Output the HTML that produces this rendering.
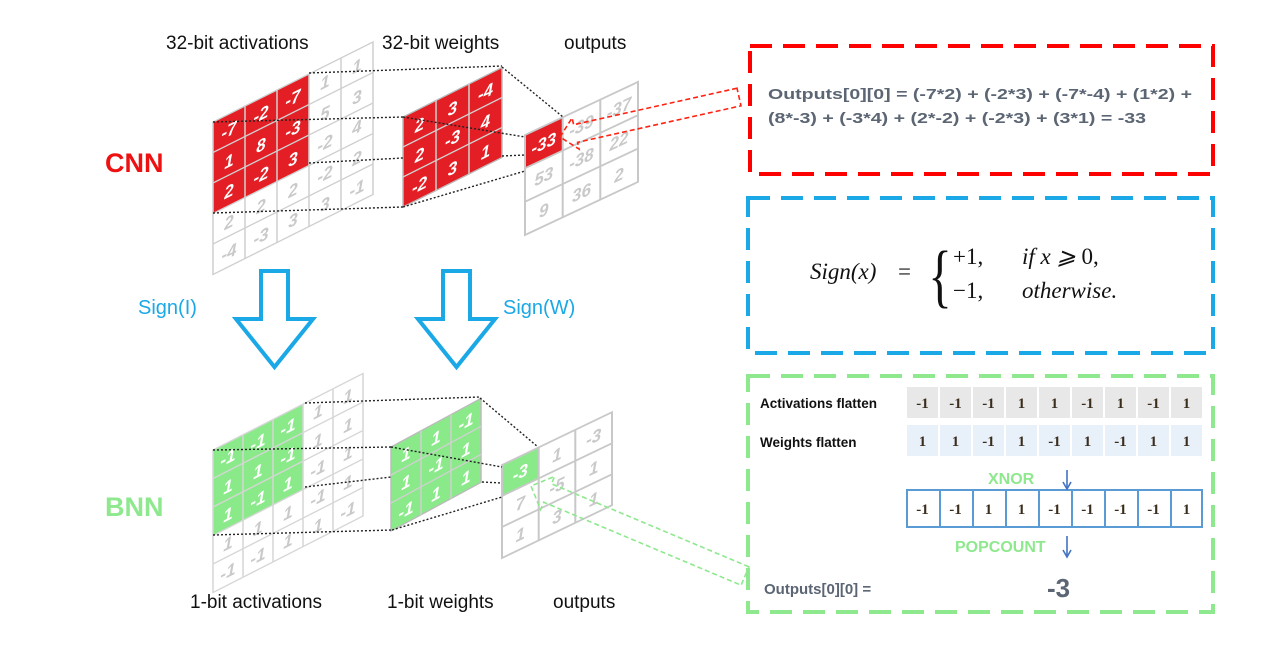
<!DOCTYPE html>
<html><head><meta charset="utf-8"><style>
html,body{margin:0;padding:0;background:#fff;}
svg{display:block;}
.lbl{font-family:"Liberation Sans",sans-serif;font-size:19px;fill:#111;}
.g text{font-family:"Liberation Sans",sans-serif;font-weight:bold;font-style:italic;font-size:17px;text-anchor:middle;}
.gw{fill:#c9c9c9;}
.gr{fill:#fff;}
.dot{stroke:#222;stroke-width:1.4;stroke-dasharray:2 2;fill:none;}
.num{font-family:"Liberation Serif",serif;font-weight:bold;font-size:15px;fill:#3b2d1e;text-anchor:middle;}
</style></head><body>
<svg width="1278" height="652" viewBox="0 0 1278 652" xmlns="http://www.w3.org/2000/svg">
<rect width="1278" height="652" fill="#fff"/>

<!-- top labels -->
<text class="lbl" x="166" y="49">32-bit activations</text>
<text class="lbl" x="382" y="49">32-bit weights</text>
<text class="lbl" x="564" y="49">outputs</text>
<text x="105" y="172" font-family="Liberation Sans,sans-serif" font-weight="bold" font-size="27" fill="#ee1111">CNN</text>
<text x="105" y="516" font-family="Liberation Sans,sans-serif" font-weight="bold" font-size="27" fill="#8ee88e">BNN</text>
<text x="138" y="314" font-family="Liberation Sans,sans-serif" font-size="20" fill="#1aa8e6">Sign(I)</text>
<text x="503" y="314" font-family="Liberation Sans,sans-serif" font-size="20" fill="#1aa8e6">Sign(W)</text>
<text class="lbl" x="190" y="608">1-bit activations</text>
<text class="lbl" x="387" y="608">1-bit weights</text>
<text class="lbl" x="553" y="608">outputs</text>

<!-- CNN activation grid 5x5 -->
<g class="g" transform="matrix(1,-0.5,0,1,213,122)">
<rect x="0" y="0" width="96" height="91.5" fill="#e31e24"/>
<g stroke="#cfcfcf" stroke-width="1.5" fill="none">
<rect x="0" y="0" width="160" height="152.5"/>
<line x1="32" y1="0" x2="32" y2="152.5"/><line x1="64" y1="0" x2="64" y2="152.5"/><line x1="96" y1="0" x2="96" y2="152.5"/><line x1="128" y1="0" x2="128" y2="152.5"/>
<line x1="0" y1="30.5" x2="160" y2="30.5"/><line x1="0" y1="61" x2="160" y2="61"/><line x1="0" y1="91.5" x2="160" y2="91.5"/><line x1="0" y1="122" x2="160" y2="122"/>
</g>
<text class="gr" x="16" y="22">-7</text><text class="gr" x="48" y="22">-2</text><text class="gr" x="80" y="22">-7</text><text class="gw" x="112" y="22">1</text><text class="gw" x="144" y="22">1</text>
<text class="gr" x="16" y="53">1</text><text class="gr" x="48" y="53">8</text><text class="gr" x="80" y="53">-3</text><text class="gw" x="112" y="53">5</text><text class="gw" x="144" y="53">3</text>
<text class="gr" x="16" y="83">2</text><text class="gr" x="48" y="83">-2</text><text class="gr" x="80" y="83">3</text><text class="gw" x="112" y="83">-2</text><text class="gw" x="144" y="83">4</text>
<text class="gw" x="16" y="114">2</text><text class="gw" x="48" y="114">2</text><text class="gw" x="80" y="114">2</text><text class="gw" x="112" y="114">-2</text><text class="gw" x="144" y="114">2</text>
<text class="gw" x="16" y="144">-4</text><text class="gw" x="48" y="144">-3</text><text class="gw" x="80" y="144">3</text><text class="gw" x="112" y="144">3</text><text class="gw" x="144" y="144">-1</text>
</g>

<!-- CNN weights -->
<g class="g" transform="matrix(1,-0.5,0,1,403,117)">
<rect x="0" y="0" width="99" height="90" fill="#e31e24" stroke="#bbb" stroke-width="1.5"/>
<g stroke="#d0d0d0" stroke-width="1.5"><line x1="33" y1="0" x2="33" y2="90"/><line x1="66" y1="0" x2="66" y2="90"/><line x1="0" y1="30" x2="99" y2="30"/><line x1="0" y1="60" x2="99" y2="60"/></g>
<text class="gr" x="16.5" y="22">2</text><text class="gr" x="49.5" y="22">3</text><text class="gr" x="82.5" y="22">-4</text>
<text class="gr" x="16.5" y="52">2</text><text class="gr" x="49.5" y="52">-3</text><text class="gr" x="82.5" y="52">4</text>
<text class="gr" x="16.5" y="82">-2</text><text class="gr" x="49.5" y="82">3</text><text class="gr" x="82.5" y="82">1</text>
</g>

<!-- CNN outputs -->
<g class="g" transform="matrix(1,-0.47,0,1,525,135)">
<rect x="0" y="0" width="37.7" height="33.3" fill="#e31e24"/>
<g stroke="#c8c8c8" stroke-width="2" fill="none"><rect x="0" y="0" width="113" height="100"/>
<line x1="37.7" y1="0" x2="37.7" y2="100"/><line x1="75.3" y1="0" x2="75.3" y2="100"/><line x1="0" y1="33.3" x2="113" y2="33.3"/><line x1="0" y1="66.7" x2="113" y2="66.7"/></g>
<text class="gr" x="18.8" y="23">-33</text><text class="gw" x="56.5" y="23">-39</text><text class="gw" x="94" y="23">-37</text>
<text class="gw" x="18.8" y="56">53</text><text class="gw" x="56.5" y="56">-38</text><text class="gw" x="94" y="56">22</text>
<text class="gw" x="18.8" y="90">9</text><text class="gw" x="56.5" y="90">36</text><text class="gw" x="94" y="90">2</text>
</g>

<!-- CNN dotted -->
<path class="dot" d="M309 73L502 66M213 122L403 117M309 163L403 158M213 213L403 207M502 67L563 117M403 117L525 137M502 156L525 155M403 207L525 171"/>

<!-- Blue arrows -->
<polygon points="261,271 288,271 288,319 313,319 274.5,367 236,319 261,319" fill="#fff" stroke="#1aa8e6" stroke-width="4" stroke-linejoin="miter"/>
<polygon points="443,271 470,271 470,319 495,319 456.5,367 418,319 443,319" fill="#fff" stroke="#1aa8e6" stroke-width="4"/>

<!-- BNN activation grid -->
<g class="g" transform="matrix(1,-0.51,0,1,213,450)">
<rect x="0" y="0" width="90" height="85.5" fill="#8aea8a"/>
<g stroke="#d6d6d6" stroke-width="1.5" fill="none">
<rect x="0" y="0" width="150" height="142.5"/>
<line x1="30" y1="0" x2="30" y2="142.5"/><line x1="60" y1="0" x2="60" y2="142.5"/><line x1="90" y1="0" x2="90" y2="142.5"/><line x1="120" y1="0" x2="120" y2="142.5"/>
<line x1="0" y1="28.5" x2="150" y2="28.5"/><line x1="0" y1="57" x2="150" y2="57"/><line x1="0" y1="85.5" x2="150" y2="85.5"/><line x1="0" y1="114" x2="150" y2="114"/>
</g>
<text class="gr" x="15" y="21">-1</text><text class="gr" x="45" y="21">-1</text><text class="gr" x="75" y="21">-1</text><text class="gw" x="105" y="21">1</text><text class="gw" x="135" y="21">1</text>
<text class="gr" x="15" y="50">1</text><text class="gr" x="45" y="50">1</text><text class="gr" x="75" y="50">-1</text><text class="gw" x="105" y="50">1</text><text class="gw" x="135" y="50">1</text>
<text class="gr" x="15" y="78">1</text><text class="gr" x="45" y="78">-1</text><text class="gr" x="75" y="78">1</text><text class="gw" x="105" y="78">-1</text><text class="gw" x="135" y="78">1</text>
<text class="gw" x="15" y="107">1</text><text class="gw" x="45" y="107">1</text><text class="gw" x="75" y="107">1</text><text class="gw" x="105" y="107">-1</text><text class="gw" x="135" y="107">1</text>
<text class="gw" x="15" y="135">-1</text><text class="gw" x="45" y="135">-1</text><text class="gw" x="75" y="135">1</text><text class="gw" x="105" y="135">1</text><text class="gw" x="135" y="135">-1</text>
</g>

<!-- BNN weights -->
<g class="g" transform="matrix(1,-0.54,0,1,391,447)">
<rect x="0" y="0" width="90" height="84" fill="#8aea8a" stroke="#bbb" stroke-width="1.5"/>
<g stroke="#d0d0d0" stroke-width="1.5"><line x1="30" y1="0" x2="30" y2="84"/><line x1="60" y1="0" x2="60" y2="84"/><line x1="0" y1="28" x2="90" y2="28"/><line x1="0" y1="56" x2="90" y2="56"/></g>
<text class="gr" x="15" y="21">1</text><text class="gr" x="45" y="21">1</text><text class="gr" x="75" y="21">-1</text>
<text class="gr" x="15" y="49">1</text><text class="gr" x="45" y="49">-1</text><text class="gr" x="75" y="49">1</text>
<text class="gr" x="15" y="77">-1</text><text class="gr" x="45" y="77">1</text><text class="gr" x="75" y="77">1</text>
</g>

<!-- BNN outputs -->
<g class="g" transform="matrix(1,-0.48,0,1,502,465)">
<rect x="0" y="0" width="36.7" height="31" fill="#8aea8a"/>
<g stroke="#c8c8c8" stroke-width="2" fill="none"><rect x="0" y="0" width="110" height="93"/>
<line x1="36.7" y1="0" x2="36.7" y2="93"/><line x1="73.3" y1="0" x2="73.3" y2="93"/><line x1="0" y1="31" x2="110" y2="31"/><line x1="0" y1="62" x2="110" y2="62"/></g>
<text class="gr" x="18.3" y="22">-3</text><text class="gw" x="55" y="22">1</text><text class="gw" x="91.7" y="22">-3</text>
<text class="gw" x="18.3" y="53">7</text><text class="gw" x="55" y="53">-5</text><text class="gw" x="91.7" y="53">1</text>
<text class="gw" x="18.3" y="84">1</text><text class="gw" x="55" y="84">3</text><text class="gw" x="91.7" y="84">1</text>
</g>

<!-- BNN dotted -->
<path class="dot" d="M305 403L480 397M213 450L391 447M305 487L391 477M213 535L392 530M480 398L538 447M391 447L502 467M482 482L502 483M392 530L502 497"/>

<!-- connectors -->
<polygon points="737,88.2 573.6,124.7 572.1,117.9 560,137 579.1,149.1 577.6,142.3 741,105.8" fill="none" stroke="#f21" stroke-width="1.6" stroke-dasharray="5 3"/>
<polygon points="748.9,566.8 551.5,483.8 554.6,476.4 531,486 540.6,509.6 543.7,502.2 741.1,585.2" fill="none" stroke="#8ee88e" stroke-width="1.6" stroke-dasharray="5 3"/>

<!-- Red box -->
<rect x="750" y="46" width="463" height="128" fill="none" stroke="#f00" stroke-width="4" stroke-dasharray="22 11"/>
<g font-family="Liberation Sans,sans-serif" font-weight="bold" font-size="15" fill="#5b6573">
<text x="768" y="99" textLength="424" lengthAdjust="spacingAndGlyphs">Outputs[0][0] = (-7*2) + (-2*3) + (-7*-4) + (1*2) +</text>
<text x="768" y="123" textLength="378" lengthAdjust="spacingAndGlyphs">(8*-3) + (-3*4) + (2*-2) + (-2*3) + (3*1) = -33</text>
</g>

<!-- Blue box -->
<rect x="748" y="198" width="465" height="155" fill="none" stroke="#1aa8e6" stroke-width="4" stroke-dasharray="22 11"/>
<g font-family="Liberation Serif,serif" font-size="23" fill="#111">
<text x="810" y="279" font-style="italic">Sign(x)</text>
<text x="898" y="279">=</text>
<text x="928" y="299" font-size="70" transform="scale(0.7,1) translate(398,0)">{</text>
<text x="953" y="264">+1,</text>
<text x="1022" y="264" font-style="italic">if  x ⩾ <tspan font-style="normal">0,</tspan></text>
<text x="953" y="298">−1,</text>
<text x="1022" y="298" font-style="italic">otherwise.</text>
</g>

<!-- Green box -->
<rect x="748" y="376" width="465" height="236" fill="none" stroke="#8ee88e" stroke-width="4" stroke-dasharray="22 11"/>
<g font-family="Liberation Sans,sans-serif" font-weight="bold" font-size="13.5" fill="#111">
<text x="760" y="408">Activations flatten</text>
<text x="760" y="447">Weights flatten</text>
</g>
<g fill="#e8e8e8">
<rect x="907" y="387" width="31" height="31"/><rect x="940" y="387" width="31" height="31"/><rect x="973" y="387" width="31" height="31"/><rect x="1006" y="387" width="31" height="31"/><rect x="1039" y="387" width="31" height="31"/><rect x="1072" y="387" width="31" height="31"/><rect x="1105" y="387" width="31" height="31"/><rect x="1138" y="387" width="31" height="31"/><rect x="1171" y="387" width="31" height="31"/>
</g>
<g fill="#e8f0f9">
<rect x="907" y="425" width="31" height="31"/><rect x="940" y="425" width="31" height="31"/><rect x="973" y="425" width="31" height="31"/><rect x="1006" y="425" width="31" height="31"/><rect x="1039" y="425" width="31" height="31"/><rect x="1072" y="425" width="31" height="31"/><rect x="1105" y="425" width="31" height="31"/><rect x="1138" y="425" width="31" height="31"/><rect x="1171" y="425" width="31" height="31"/>
</g>
<g fill="#fff" stroke="#5b9bd5" stroke-width="2">
<rect x="907" y="490" width="295" height="37"/>
</g>
<g stroke="#5b9bd5" stroke-width="2">
<line x1="940" y1="490" x2="940" y2="527"/><line x1="973" y1="490" x2="973" y2="527"/><line x1="1006" y1="490" x2="1006" y2="527"/><line x1="1039" y1="490" x2="1039" y2="527"/><line x1="1072" y1="490" x2="1072" y2="527"/><line x1="1105" y1="490" x2="1105" y2="527"/><line x1="1138" y1="490" x2="1138" y2="527"/><line x1="1171" y1="490" x2="1171" y2="527"/>
</g>
<g class="num">
<text x="922.5" y="408">-1</text><text x="955.5" y="408">-1</text><text x="988.5" y="408">-1</text><text x="1021.5" y="408">1</text><text x="1054.5" y="408">1</text><text x="1087.5" y="408">-1</text><text x="1120.5" y="408">1</text><text x="1153.5" y="408">-1</text><text x="1186.5" y="408">1</text>
<text x="922.5" y="446">1</text><text x="955.5" y="446">1</text><text x="988.5" y="446">-1</text><text x="1021.5" y="446">1</text><text x="1054.5" y="446">-1</text><text x="1087.5" y="446">1</text><text x="1120.5" y="446">-1</text><text x="1153.5" y="446">1</text><text x="1186.5" y="446">1</text>
<text x="922.5" y="514">-1</text><text x="955.5" y="514">-1</text><text x="988.5" y="514">1</text><text x="1021.5" y="514">1</text><text x="1054.5" y="514">-1</text><text x="1087.5" y="514">-1</text><text x="1120.5" y="514">-1</text><text x="1153.5" y="514">-1</text><text x="1186.5" y="514">1</text>
</g>
<g font-family="Liberation Sans,sans-serif" font-weight="bold" font-size="16" fill="#8ee88e">
<text x="988" y="484">XNOR</text>
<text x="955" y="552">POPCOUNT</text>
</g>
<g stroke="#4472c4" stroke-width="1.6" fill="none">
<line x1="1067" y1="470" x2="1067" y2="488"/><polyline points="1063,482 1067,489 1071,482"/>
<line x1="1067" y1="536" x2="1067" y2="556"/><polyline points="1063,550 1067,557 1071,550"/>
</g>
<text x="764" y="594" font-family="Liberation Sans,sans-serif" font-weight="bold" font-size="15" fill="#5b6573">Outputs[0][0] =</text>
<text x="1047" y="597" font-family="Liberation Sans,sans-serif" font-weight="bold" font-size="26" fill="#5b6573">-3</text>
</svg>
</body></html>
